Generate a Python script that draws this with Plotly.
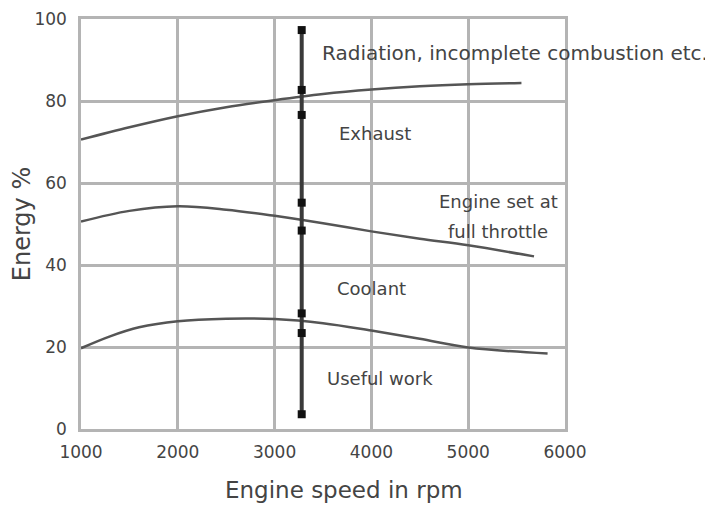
import plotly.graph_objects as go

# Energy balance of a petrol engine at full throttle
speed_top = [1000, 1500, 2000, 2500, 3000, 3500, 4000, 4500, 5000, 5550]
radiation_boundary = [70.6, 73.6, 76.3, 78.5, 80.2, 81.7, 82.8, 83.6, 84.1, 84.4]

speed_mid = [1000, 1500, 2000, 2500, 3000, 3500, 4000, 4500, 5000, 5680]
exhaust_boundary = [50.6, 53.2, 54.3, 53.5, 52.0, 50.2, 48.2, 46.4, 44.8, 42.1]

speed_low = [1000, 1300, 1600, 2000, 2500, 3000, 3500, 4000, 4500, 5000, 5820]
coolant_boundary = [19.7, 22.6, 24.8, 26.3, 26.9, 26.8, 25.8, 24.0, 22.0, 19.9, 18.4]

measure_speed = 3280
measure_points = [3.6, 23.4, 28.2, 48.4, 55.2, 76.6, 82.7, 97.3]

x_ticks = [1000, 2000, 3000, 4000, 5000, 6000]
y_ticks = [0, 20, 40, 60, 80, 100]

CURVE = "#555555"
GRID = "#b4b4b4"
TEXT = "#444444"
FONT = "DejaVu Sans"

fig = go.Figure()

for xs, ys in [(speed_top, radiation_boundary),
               (speed_mid, exhaust_boundary),
               (speed_low, coolant_boundary)]:
    fig.add_trace(go.Scatter(
        x=xs, y=ys, mode="lines", line=dict(color=CURVE, width=2.5, shape="spline"),
        showlegend=False, hoverinfo="skip",
    ))

fig.add_trace(go.Scatter(
    x=[measure_speed] * len(measure_points), y=measure_points,
    mode="lines+markers",
    line=dict(color="#3a3a3a", width=4),
    marker=dict(color="#111111", size=8, symbol="square"),
    showlegend=False, hoverinfo="skip",
))

# (x, y, text, anchor, size)
labels = [
    (3469, 91.7, "Radiation, incomplete combustion etc.", "left", 20),
    (3645, 72.0, "Exhaust", "left", 18),
    (5308, 55.5, "Engine set at", "center", 18),
    (5308, 48.2, "full throttle", "center", 18),
    (3624, 34.3, "Coolant", "left", 18),
    (3520, 12.2, "Useful work", "left", 18),
]
for x, y, t, anchor, size in labels:
    fig.add_annotation(
        x=x, y=y, text=t, showarrow=False, xanchor=anchor, yanchor="middle",
        font=dict(family=FONT, size=size, color=TEXT),
    )

# x title sits a little right of the plot centre in the original
fig.add_annotation(
    x=0.543, y=-0.148, xref="paper", yref="paper", text="Engine speed in rpm",
    showarrow=False, xanchor="center", yanchor="middle",
    font=dict(family=FONT, size=23, color=TEXT),
)

# page body adds an 8px offset, so margins are trimmed on top/left
fig.update_layout(
    width=713, height=507,
    margin=dict(l=73, r=156, t=11, b=86),
    paper_bgcolor="white", plot_bgcolor="white",
    font=dict(family=FONT, color=TEXT),
    xaxis=dict(
        range=[1000, 6000], tickvals=x_ticks, ticktext=[str(v) for v in x_ticks],
        showgrid=True, gridcolor=GRID, gridwidth=2.5, zeroline=False,
        showline=True, linecolor=GRID, linewidth=2.5, mirror=True,
        tickfont=dict(size=17, color=TEXT), ticks="", ticklabelstandoff=6,
        ticklabeloverflow="allow", automargin=False,
    ),
    yaxis=dict(
        range=[0, 100], tickvals=y_ticks, ticktext=[str(v) for v in y_ticks],
        showgrid=True, gridcolor=GRID, gridwidth=2.5, zeroline=False,
        showline=True, linecolor=GRID, linewidth=2.5, mirror=True,
        tickfont=dict(size=17, color=TEXT), ticks="", ticklabelstandoff=8,
        ticklabeloverflow="allow", automargin=False,
        title=dict(text="Energy %", font=dict(size=24, color=TEXT), standoff=3),
    ),
)

fig.write_html("out.html")
